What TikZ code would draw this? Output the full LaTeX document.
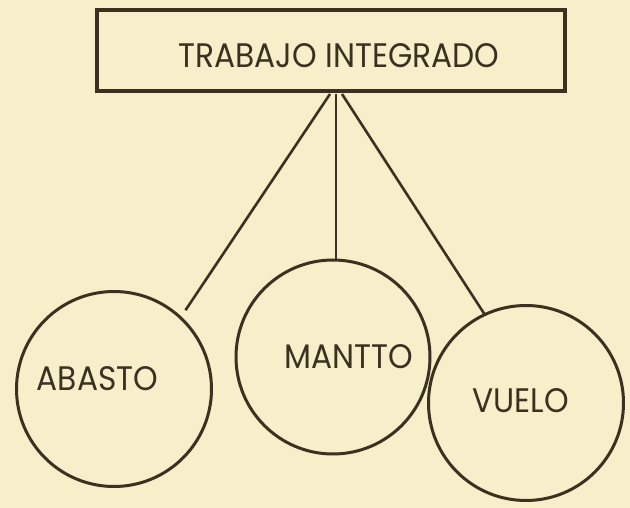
\documentclass[tikz,border=0pt]{standalone}
\usepackage{fontspec}
\setmainfont{Poppins}[FakeStretch=0.92]
\definecolor{paper}{HTML}{F6EFC9}
\definecolor{ink}{HTML}{3A3120}
\begin{document}
\begin{tikzpicture}[x=1pt,y=-1pt,
  every node/.style={inner sep=0pt,outer sep=0pt},
  bigbox/.style={draw=ink,line width=3.2pt,minimum width=468pt,minimum height=81pt},
  orb/.style={draw=ink,line width=3pt,circle,minimum size=195pt},
  lbl/.style={text=ink,anchor=base,font=\fontsize{34}{40}\selectfont},
  link/.style={draw=ink,line width=2.6pt}]
\fill[paper] (0,0) rectangle (630,508);
\useasboundingbox (0,0) rectangle (630,508);
\node[bigbox] (top) at (331,50.5) {};
\node[lbl] (toplbl) at (339,68) {TRABAJO INTEGRADO};
\node[orb] (abasto) at (114,389) {};
\node[orb,minimum size=194pt] (mantto) at (333,357) {};
\node[orb] (vuelo) at (526,403) {};
\node[lbl] (abastolbl) at (97.5,390) {ABASTO};
\node[lbl] (manttolbl) at (349,368) {MANTTO};
\node[lbl] (vuelolbl) at (520.5,412) {VUELO};
\coordinate (s1) at ([xshift=-1pt,yshift=-3pt]top.south);
\coordinate (s2) at ([xshift=5pt,yshift=-3pt]top.south);
\coordinate (s3) at ([xshift=11pt,yshift=-3pt]top.south);
\draw[link,shorten >=9pt] (s1) -- (abasto.47);
\draw[link] (s2) -- (s2 |- mantto.north);
\draw[link] (s3) -- (vuelo.115);
\end{tikzpicture}
\end{document}
